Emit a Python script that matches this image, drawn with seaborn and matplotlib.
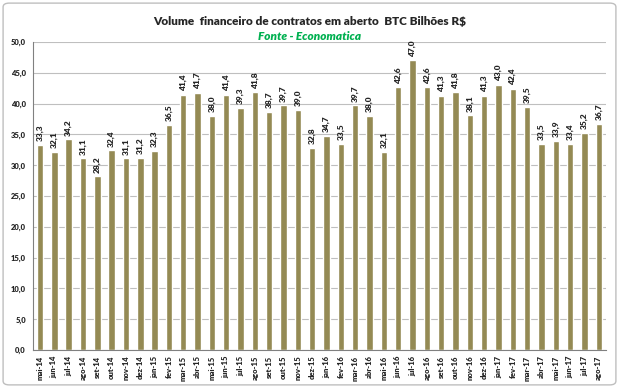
import matplotlib
matplotlib.use("Agg")
import matplotlib.pyplot as plt
import seaborn as sns
import pandas as pd
from matplotlib.patches import FancyBboxPatch

# meses de mai-14 a ago-17
meses = ["mai-14", "jun-14", "jul-14", "ago-14", "set-14", "out-14", "nov-14", "dez-14",
         "jan-15", "fev-15", "mar-15", "abr-15", "mai-15", "jun-15", "jul-15", "ago-15",
         "set-15", "out-15", "nov-15", "dez-15",
         "jan-16", "fev-16", "mar-16", "abr-16", "mai-16", "jun-16", "jul-16", "ago-16",
         "set-16", "out-16", "nov-16", "dez-16",
         "jan-17", "fev-17", "mar-17", "abr-17", "mai-17", "jun-17", "jul-17", "ago-17"]
volume = [33.3, 32.1, 34.2, 31.1, 28.2, 32.4, 31.1, 31.2,
          32.3, 36.5, 41.4, 41.7, 38.0, 41.4, 39.3, 41.8,
          38.7, 39.7, 39.0, 32.8,
          34.7, 33.5, 39.7, 38.0, 32.1, 42.6, 47.0, 42.6,
          41.3, 41.8, 38.1, 41.3,
          43.0, 42.4, 39.5, 33.5, 33.9, 33.4, 35.2, 36.7]

df = pd.DataFrame({"mes": meses, "volume": volume})

sns.set_style("white")
plt.rcParams["font.family"] = ["Lato", "DejaVu Sans"]

fig = plt.figure(figsize=(6.19, 3.88), dpi=100)
# moldura cinza arredondada
moldura = FancyBboxPatch((0.005, 0.008), 0.99, 0.984, boxstyle="round,pad=0,rounding_size=0.01",
                         transform=fig.transFigure, fc="white", ec="#BFBFBF", lw=1, zorder=-10)
fig.patches.append(moldura)
ax = fig.add_axes([0.053, 0.098, 0.926, 0.794])
ax.patch.set_alpha(0)

sns.barplot(data=df, x="mes", y="volume", color="#948A54", saturation=1, width=0.45, ax=ax)

ax.set_ylim(0, 50)
ax.set_xlim(-0.5, len(meses) - 0.5)
ax.set_yticks(range(0, 51, 5))
ax.set_yticklabels([f"{v},0" for v in range(0, 51, 5)], fontsize=5.5, fontweight="heavy")
ax.yaxis.grid(True, color="#BFBFBF", lw=0.8)
ax.set_axisbelow(True)
ax.set_xticks(range(len(meses)))
ax.set_xticklabels(meses, rotation=90, fontsize=5.5, fontweight="heavy")
ax.tick_params(axis="x", length=0, pad=4)
ax.tick_params(axis="y", length=3, color="#808080", pad=2)
# marcas entre categorias
ax.set_xticks([i - 0.5 for i in range(len(meses) + 1)], minor=True)
ax.tick_params(axis="x", which="minor", length=3, color="#808080")
ax.set_xlabel("")
ax.set_ylabel("")
for s in ["top", "right"]:
    ax.spines[s].set_visible(False)
ax.spines["left"].set_color("#808080")
ax.spines["bottom"].set_color("#808080")

for i, v in enumerate(volume):
    ax.text(i, v + 0.6, f"{v:.1f}".replace(".", ","), rotation=90, ha="center", va="bottom",
            fontsize=6, fontweight="heavy")

fig.text(0.5, 0.945, "Volume  financeiro de contratos em aberto  BTC Bilhões R$", ha="center",
         va="center", fontsize=8.5, fontweight="heavy")
fig.text(0.5, 0.905, "Fonte - Economatica", ha="center", va="center", fontsize=8.5,
         fontweight="heavy", style="italic", color="#00B050")

fig.savefig("out.png", dpi=100)
